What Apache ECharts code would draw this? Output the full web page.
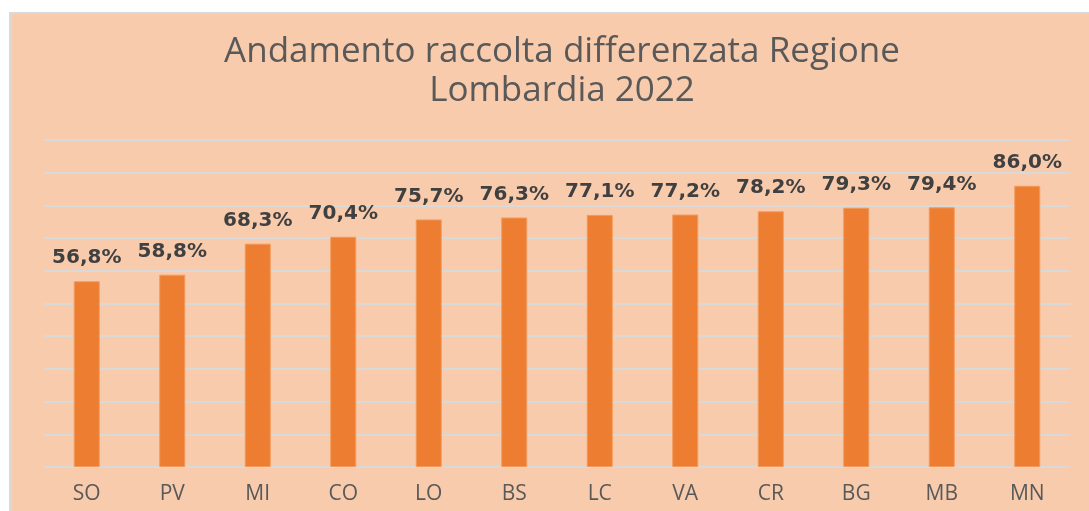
<!DOCTYPE html>
<html>
<head>
<meta charset="utf-8">
<script src="https://cdn.jsdelivr.net/npm/echarts@6/dist/echarts.min.js"></script>
<style>
  html, body { margin: 0; padding: 0; background: #fff; }
  #chart {
    position: absolute; left: 9px; top: 12px;
    width: 1077px; height: 497px;
    border-left: 3px solid #d9d9d9; border-top: 2px solid #d9d9d9;
  }
</style>
</head>
<body>
<div id="chart"></div>
<script>
// province codes (x axis)
const provinces = ['SO', 'PV', 'MI', 'CO', 'LO', 'BS', 'LC', 'VA', 'CR', 'BG', 'MB', 'MN'];
// raccolta differenziata %, 2022
const percentages = [56.8, 58.8, 68.3, 70.4, 75.7, 76.3, 77.1, 77.2, 78.2, 79.3, 79.4, 86.0];
const titleLines = ['Andamento raccolta differenzata Regione', 'Lombardia 2022'];

const myChart = echarts.init(document.getElementById('chart'));

// formato italiano: virgola decimale
const fmtPct = function (v) {
  return v.toFixed(1).replace('.', ',') + '%';
};

myChart.setOption({
  backgroundColor: '#f8cbad',
  animation: false,
  title: {
    text: titleLines.join('\n'),
    left: 545,
    top: 14,
    textAlign: 'center',
    textStyle: {
      fontFamily: 'Open Sans',
      fontWeight: 'normal',
      fontSize: 35,
      lineHeight: 39,
      color: '#595959'
    }
  },
  grid: { left: 32, right: 19, top: 126, bottom: 44 },
  xAxis: {
    type: 'category',
    data: provinces,
    axisLine: { show: false },
    axisTick: { show: false },
    axisLabel: {
      margin: 17,
      fontFamily: 'Open Sans',
      fontSize: 21,
      color: '#595959'
    }
  },
  yAxis: {
    type: 'value',
    min: 0,
    max: 100,
    interval: 10,
    axisLabel: { show: false },
    axisLine: { show: false },
    axisTick: { show: false },
    splitLine: { lineStyle: { color: '#d9d9d9', width: 2 } }
  },
  series: [{
    type: 'bar',
    data: percentages,
    barWidth: 26,
    itemStyle: { color: '#ed7d31', borderColor: '#f19a5c', borderWidth: 1 },
    label: {
      show: true,
      position: 'top',
      distance: 13,
      formatter: function (p) { return fmtPct(p.value); },
      fontFamily: 'DejaVu Sans',
      fontWeight: 'bold',
      fontSize: 20,
      color: '#404040'
    }
  }]
});
</script>
</body>
</html>
